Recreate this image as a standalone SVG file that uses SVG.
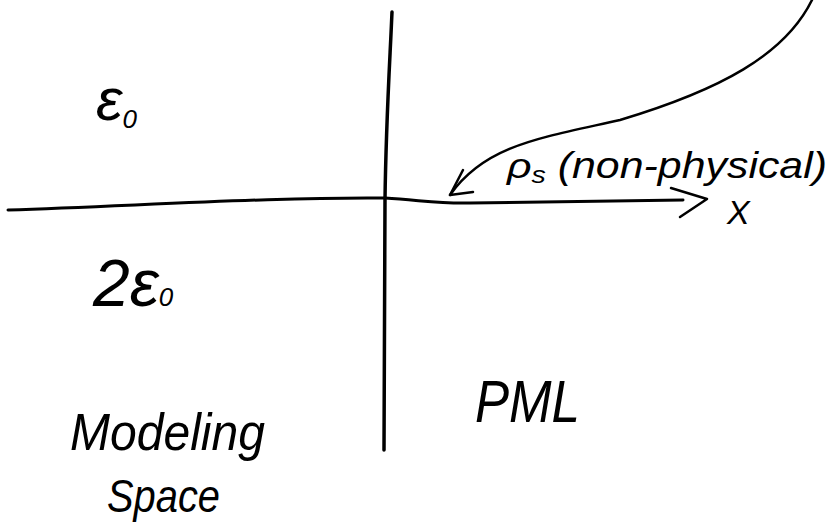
<svg xmlns="http://www.w3.org/2000/svg" width="833" height="530" viewBox="0 0 833 530">
<style>
.ink{fill:none;stroke:#000;stroke-linecap:round;stroke-linejoin:round}
.hand{font-family:"Liberation Sans","DejaVu Sans",sans-serif;font-style:italic;fill:#000}
</style>
<rect width="833" height="530" fill="#fff"/>
<!-- interface lines -->
<g id="axes">
<path class="ink" stroke-width="3.5" d="M392,12 C390,60 386,120 385,200 L384,450"/>
<path class="ink" stroke-width="3" d="M8,210 C150,205 280,197 385,198 C420,200 440,204 470,203 L683,200"/>
<path class="ink" stroke-width="2.5" d="M671,188 L707,199 L680,217"/>
</g>
<!-- pointer to the surface charge -->
<g id="pointer">
<path class="ink" stroke-width="2.5" d="M812,0 C785,55 720,90 620,120 C540,138 485,145 450,195"/>
<path class="ink" stroke-width="2.5" d="M463,170 L450,195 L473,192"/>
</g>
<!-- region labels -->
<g id="labels">
<text class="hand" x="96" y="120" font-size="60">ε<tspan font-size="26" dy="8">0</tspan></text>
<text class="hand" x="93" y="306" font-size="66">2ε<tspan font-size="26" dy="0">0</tspan></text>
<text class="hand" x="70" y="450" font-size="52" textLength="195" lengthAdjust="spacingAndGlyphs">Modeling</text>
<text class="hand" x="107" y="512" font-size="46" textLength="113" lengthAdjust="spacingAndGlyphs">Space</text>
<text class="hand" x="475" y="422" font-size="60" textLength="105" lengthAdjust="spacingAndGlyphs">PML</text>
<text class="hand" x="507" y="178" font-size="36" textLength="320" lengthAdjust="spacingAndGlyphs">ρ<tspan font-size="24" dy="5">s</tspan><tspan dy="-5"> (non-physical)</tspan></text>
<text class="hand" x="727" y="224" font-size="34">X</text>
</g>
</svg>
